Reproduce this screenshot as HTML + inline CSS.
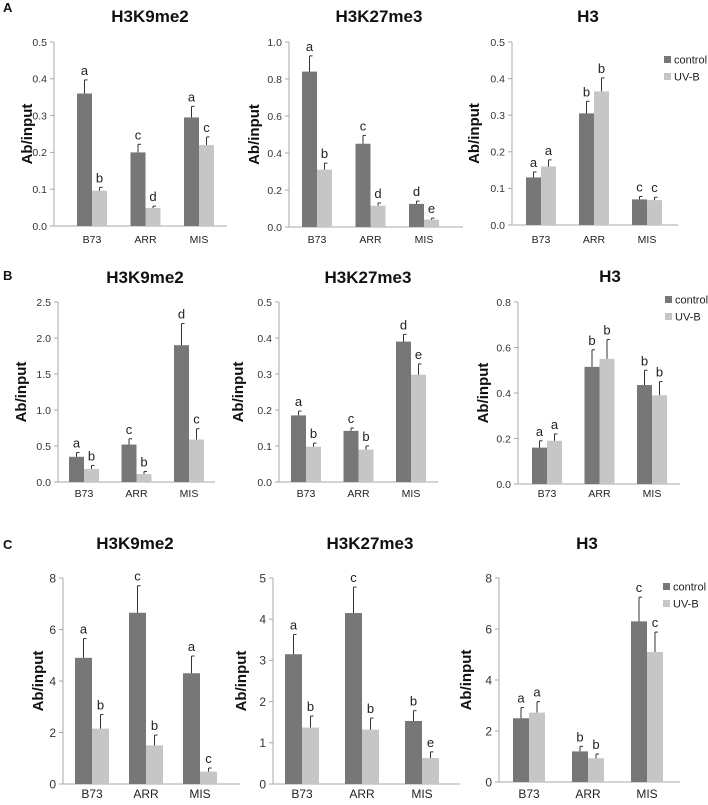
<!DOCTYPE html>
<html><head><meta charset="utf-8"><style>
body{margin:0;background:#fff;}
svg{display:block;font-family:"Liberation Sans",sans-serif;}
</style></head><body>
<svg id="fig" width="708" height="805" viewBox="0 0 708 805"></svg>
<script>
const categories=["B73","ARR","MIS"];
const titles=["H3K9me2","H3K27me3","H3","H3K9me2","H3K27me3","H3","H3K9me2","H3K27me3","H3"];
const ctrlVals=[[0.36,0.20,0.295],[0.84,0.45,0.125],[0.13,0.305,0.07],[0.35,0.52,1.9],[0.185,0.142,0.39],[0.16,0.515,0.435],[4.9,6.65,4.3],[3.15,4.15,1.53],[2.5,1.2,6.3]];
const ctrlErr=[[0.037,0.022,0.03],[0.085,0.045,0.015],[0.015,0.033,0.008],[0.06,0.08,0.3],[0.012,0.008,0.02],[0.03,0.075,0.065],[0.75,1.05,0.67],[0.48,0.63,0.25],[0.42,0.2,0.95]];
const uvbVals=[[0.096,0.049,0.22],[0.31,0.115,0.04],[0.16,0.365,0.068],[0.18,0.11,0.59],[0.098,0.09,0.298],[0.19,0.55,0.39],[2.15,1.5,0.48],[1.37,1.32,0.63],[2.72,0.93,5.1]];
const uvbErr=[[0.009,0.005,0.022],[0.035,0.015,0.008],[0.018,0.037,0.008],[0.05,0.035,0.15],[0.01,0.01,0.03],[0.03,0.085,0.06],[0.55,0.4,0.14],[0.28,0.28,0.15],[0.43,0.17,0.78]];
const ctrlLetters=[["a","c","a"],["a","c","d"],["a","b","c"],["a","c","d"],["a","c","d"],["a","b","b"],["a","c","a"],["a","c","b"],["a","b","c"]];
const uvbLetters=[["b","d","c"],["b","d","e"],["a","b","c"],["b","b","c"],["b","b","e"],["a","b","b"],["b","b","c"],["b","b","e"],["a","b","c"]];
const yMax=[0.5,1.0,0.5,2.5,0.5,0.8,8,5,8];
const yStep=[0.1,0.2,0.1,0.5,0.1,0.2,2,1,2];
const yDec=[1,1,1,1,1,1,0,0,0];
// layout (not data)
const L=[
 {ax:54,top:42,y0:226,bx:77,sp:53.5,bw:15,end:227,tx:150,ty:22,yl:32,cy:243,leg:null,fs:10.5},
 {ax:289,top:42,y0:227,bx:302,sp:53.5,bw:15,end:463,tx:379,ty:22,yl:259,cy:243,leg:null,fs:10.5},
 {ax:512,top:42,y0:225,bx:526,sp:53,bw:15,end:678,tx:588,ty:22,yl:479,cy:243,leg:[664,60],fs:10.5},
 {ax:58,top:302,y0:482,bx:69,sp:52.5,bw:15,end:215,tx:145,ty:283,yl:26,cy:497,leg:null,fs:10.5},
 {ax:279,top:302,y0:482,bx:291,sp:52.5,bw:15,end:438,tx:368,ty:283,yl:243,cy:497,leg:null,fs:10.5},
 {ax:518,top:302,y0:484,bx:532,sp:52.5,bw:15,end:680,tx:610,ty:282,yl:488,cy:497,leg:[665,300],fs:10.5},
 {ax:63,top:578,y0:784,bx:75,sp:54,bw:17,end:240,tx:135,ty:549,yl:43,cy:798,leg:null,fs:12},
 {ax:273,top:578,y0:784,bx:285,sp:60,bw:17,end:460,tx:370,ty:549,yl:246,cy:798,leg:null,fs:12},
 {ax:499,top:578,y0:782,bx:513,sp:59,bw:16,end:680,tx:587,ty:549,yl:471,cy:798,leg:[663,587],fs:12}
];
const NS="http://www.w3.org/2000/svg";
const svg=document.getElementById("fig");
function mk(tag,attrs,parent,text){const e=document.createElementNS(NS,tag);for(const k in attrs)e.setAttribute(k,attrs[k]);if(text!==undefined)e.textContent=text;(parent||svg).appendChild(e);return e;}
[["A",12],["B",280],["C",549]].forEach(([t,y])=>{
 const e=mk("text",{x:3,y:y,"font-size":13,"font-weight":"bold",fill:"#111"},svg,t);
 
 
});
const DARK="#777777",LIGHT="#c6c6c6";
for(let p=0;p<9;p++){
 const l=L[p];
 const g=mk("g",{});
 
 
 const yS=v=>l.y0-(v/yMax[p])*(l.y0-l.top);
 const tt=mk("text",{x:l.tx,y:l.ty,"font-size":17,"font-weight":"bold","text-anchor":"middle",fill:"#111"},g,titles[p]);
 
 
 const yl=mk("text",{x:0,y:0,"font-size":15,"font-weight":"bold","text-anchor":"middle",fill:"#111",transform:`translate(${l.yl},${(l.top+l.y0)/2}) rotate(-90)`},g,"Ab/input");
 
 
 const ya=mk("line",{x1:l.ax,y1:l.top,x2:l.ax,y2:l.y0,stroke:"#a8a8a8","stroke-width":1},g);
 
 
 const xa=mk("line",{x1:l.ax,y1:l.y0,x2:l.end,y2:l.y0,stroke:"#a8a8a8","stroke-width":1},g);
 
 
 const n=Math.round(yMax[p]/yStep[p]);
 for(let i=0;i<=n;i++){
  const v=i*yStep[p],y=yS(v);
  mk("line",{x1:l.ax-4,y1:y,x2:l.ax,y2:y,stroke:"#a8a8a8"},g);
  const t=mk("text",{x:l.ax-7,y:y+l.fs*0.36,"font-size":l.fs,"text-anchor":"end",fill:"#333"},g,v.toFixed(yDec[p]));
  
  
 }
 for(let c=0;c<3;c++){
  const x0=l.bx+c*l.sp;
  [[ctrlVals,ctrlErr,ctrlLetters,DARK,0,'control'],[uvbVals,uvbErr,uvbLetters,LIGHT,1,'uvb']].forEach(([vals,errs,lets,col,k,nm])=>{
   const v=vals[p][c],e=errs[p][c],x=x0+k*l.bw,cx=x+l.bw/2;
   const r=mk("rect",{x:x,y:yS(v),width:l.bw,height:l.y0-yS(v),fill:col},g);
   
   
   const et=yS(v+e);
   mk("line",{x1:cx,y1:yS(v),x2:cx,y2:et,stroke:"#333","stroke-width":1},g);
   mk("line",{x1:cx,y1:et,x2:cx+3,y2:et,stroke:"#333","stroke-width":1},g);
   const lt=mk("text",{x:cx,y:et-5,"font-size":13,"text-anchor":"middle",fill:"#222"},g,lets[p][c]);
   
   
  });
  const cl=mk("text",{x:x0+l.bw,y:l.cy,"font-size":l.fs,"text-anchor":"middle",fill:"#222"},g,categories[c]);
  
  
 }
 if(l.leg){
  const lg=mk("g",{},g);
  
  
  [["control",DARK],["UV-B",LIGHT]].forEach(([t,c],i)=>{
   const y=l.leg[1]+i*17;
   mk("rect",{x:l.leg[0],y:y-4,width:7,height:7,fill:c},lg);
   const tx=mk("text",{x:l.leg[0]+10,y:y+3.5,"font-size":11,fill:"#222"},lg,t);
   
   
  });
 }
}
</script>
</body></html>
